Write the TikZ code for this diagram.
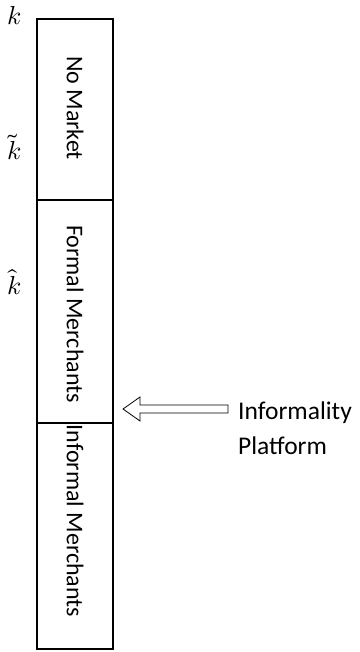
\documentclass[tikz,border=0pt]{standalone}
\usepackage{fontspec}
\usepackage{unicode-math}
\setmainfont{Carlito}
\setmathfont{Latin Modern Math}
\tikzset{
  boxline/.style={line width=1.6pt, black},
  sidelabel/.style={rotate=-90, font=\fontsize{24}{28}\selectfont, inner sep=0pt},
  klabel/.style={scale=2.6, inner sep=0pt},
  plaintext/.style={font=\fontsize{25.5}{30}\selectfont, inner sep=0pt, anchor=base west},
  hollowarrow/.style={draw=black, line width=0.8pt, fill=white, line join=miter}
}
\begin{document}
\begin{tikzpicture}[x=1pt,y=-1pt]
\useasboundingbox (0,0) rectangle (359,652);
% box
\coordinate (tl) at (37,19);
\coordinate (tr) at (113,19);
\coordinate (bl) at (37,649);
\coordinate (br) at (113,649);
\coordinate (d1l) at (37,200);
\coordinate (d1r) at (113,200);
\coordinate (d2l) at (37,423);
\coordinate (d2r) at (113,423);
\draw[boxline] (tl) -- (tr) -- (br) -- (bl) -- cycle;
\draw[boxline] (d1l) -- (d1r);
\draw[boxline] (d2l) -- (d2r);
% region labels
\node[sidelabel] (nomarket) at (75,108) {No Market};
\node[sidelabel] (formal) at (75,314) {Formal Merchants};
\node[sidelabel] (informal) at (75,521) {Informal Merchants};
% k labels
\node[klabel] (k) at (14,16) {$k$};
\node[klabel] (ktilde) at (14,147) {$\tilde{k}$};
\node[klabel] (khat) at (14,282) {$\hat{k}$};
% hollow arrow
\coordinate (tip) at (123,409);
\draw[hollowarrow] (tip) -- (140,397) -- (140,405) -- (228,405) -- (228,413)
  -- (140,413) -- (140,421) -- cycle;
% right text
\node[plaintext] (inf) at (238,419) {Informality};
\node[plaintext] (plat) at (238,454) {Platform};
\end{tikzpicture}
\end{document}
